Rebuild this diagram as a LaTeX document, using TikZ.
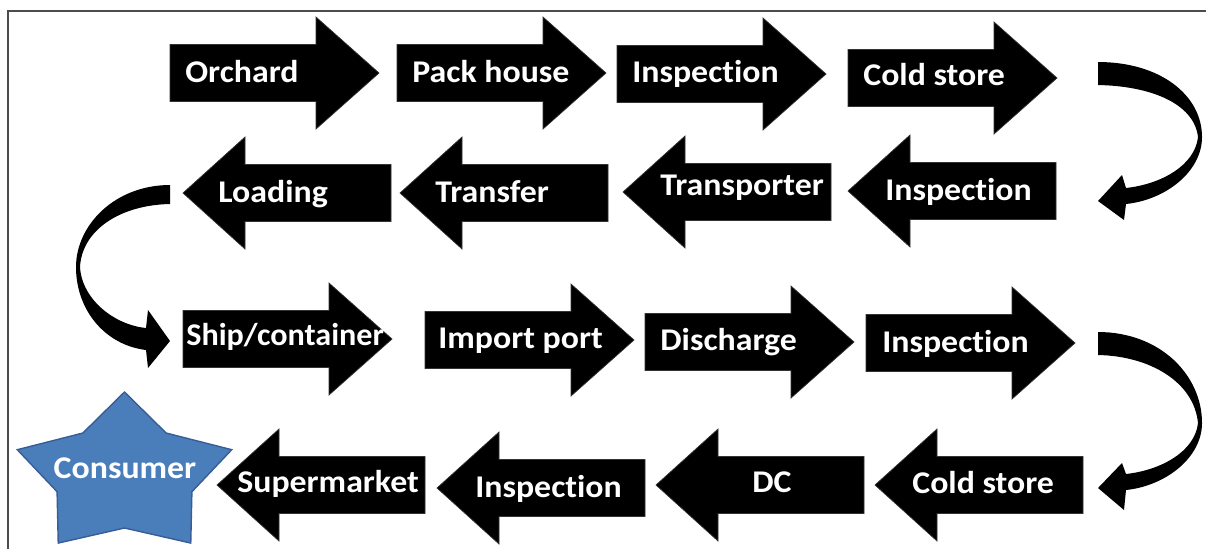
\documentclass[tikz,border=0pt]{standalone}
\usepackage{fontspec}
\setmainfont{Carlito}[Ligatures=NoCommon, FakeStretch=1.07]
\usepackage{tikz}
\usetikzlibrary{calc}
\definecolor{starblue}{RGB}{74,126,187}
\definecolor{stardark}{RGB}{56,93,150}
\tikzset{
  arrowfill/.style={fill=black, draw=black!80, line width=0.4pt, line join=miter},
  bendfill/.style={fill=black},
  steplabel/.style={anchor=base west, text=white, font=\bfseries\fontsize{18}{22}\selectfont, inner sep=0pt},
  framelines/.style={draw=black!70, line width=0.6pt}
}
\def\rightarr(#1,#2){\draw[arrowfill] (#1,#2) ++(0,-28.5) -- ++(146,0) -- ++(0,-27.5) -- ++(63,56) -- ++(-63,56) -- ++(0,-27.5) -- ++(-146,0) -- cycle;}
\def\leftarr(#1,#2){\draw[arrowfill] (#1,#2) -- ++(62,-56) -- ++(0,27.5) -- ++(146,0) -- ++(0,57) -- ++(-146,0) -- ++(0,27.5) -- cycle;}

\begin{document}
\begin{tikzpicture}[x=0.02cm, y=-0.02cm]
			%%%%% START %%%%%
			\useasboundingbox (0,0) rectangle (1206,549);
			\draw[framelines] (8,549) -- (8,11) -- (1206,11);
			
			% first row, to the right
			\rightarr(170,73)
			\rightarr(397,73)
			\rightarr(617,74)
			\rightarr(848,78)
			\node[steplabel] (orchard) at (185,82) {Orchard};
			\node[steplabel] (packhouse) at (412,82) {Pack house};
			\node[steplabel] (inspectA) at (632,82) {Inspection};
			\node[steplabel] (coldA) at (863,85) {Cold store};
			
			% second row, to the left
			\leftarr(848,191)
			\leftarr(623,192)
			\leftarr(400,193)
			\leftarr(183,193)
			\node[steplabel] (inspectB) at (885,200) {Inspection};
			\node[steplabel] (transporter) at (660,195) {Transporter};
			\node[steplabel] (transfer) at (435,202) {Transfer};
			\node[steplabel] (loading) at (218,202) {Loading};
			
			% third row, to the right
			\rightarr(183,339)
			\rightarr(425,340)
			\rightarr(645,342)
			\rightarr(866,343)
			\node[steplabel, xscale=0.95] (ship) at (186,345) {Ship/container};
			\node[steplabel] (importport) at (438,348) {Import port};
			\node[steplabel] (discharge) at (660,350) {Discharge};
			\node[steplabel] (inspectC) at (882,352) {Inspection};
			
			% fourth row, to the left
			\leftarr(875,485)
			\leftarr(656,485)
			\leftarr(437,488)
			\leftarr(217,485)
			\node[steplabel] (coldB) at (912,493) {Cold store};
			\node[steplabel] (dc) at (752,492) {DC};
			\node[steplabel] (inspectD) at (475,497) {Inspection};
			\node[steplabel] (supermarket) at (237,492) {Supermarket};
			
			% bends between the rows
			\coordinate (bendA) at (1098,62);
			\coordinate (bendB) at (170,185);
			\coordinate (bendC) at (1098,332);
			\fill[bendfill] (bendA) .. controls (1160,62) and (1202,95) .. (1202,137)
				.. controls (1202,172) and (1165,200) .. (1126,204)
				-- (1124,220) -- (1098,201) -- (1122,175) -- (1126,188)
				.. controls (1162,184) and (1195,165) .. (1198,137)
				.. controls (1194,103) and (1150,86) .. (1098,85) -- cycle;
			\fill[bendfill] (bendB) .. controls (115,185) and (76,225) .. (76,267)
				.. controls (76,310) and (105,345) .. (146,350)
				-- (148,368) -- (170,341) -- (148,310) -- (146,328)
				.. controls (115,325) and (82,300) .. (80,267)
				.. controls (82,230) and (120,205) .. (170,204) -- cycle;
			\fill[bendfill] (bendC) .. controls (1160,332) and (1202,375) .. (1202,423)
				.. controls (1202,458) and (1165,486) .. (1126,490)
				-- (1124,510) -- (1098,488) -- (1122,463) -- (1126,474)
				.. controls (1162,470) and (1195,451) .. (1198,423)
				.. controls (1194,382) and (1150,356) .. (1098,355) -- cycle;
			
			% the star
			\begin{scope}[shift={(124.5,475.5)}, xscale=1.35]
				\draw[fill=starblue, draw=stardark, line width=0.8pt, line join=miter] (270:83.5) -- (306:52.5) -- (342:83.5) -- (18:52.5) -- (54:83.5) -- (90:52.5) -- (126:83.5) -- (162:52.5) -- (198:83.5) -- (234:52.5) -- cycle;
			\end{scope}
			\node[steplabel, anchor=base] (consumer) at (125,478) {Consumer};
			
			%%%%% END %%%%%
\end{tikzpicture}
\end{document}
